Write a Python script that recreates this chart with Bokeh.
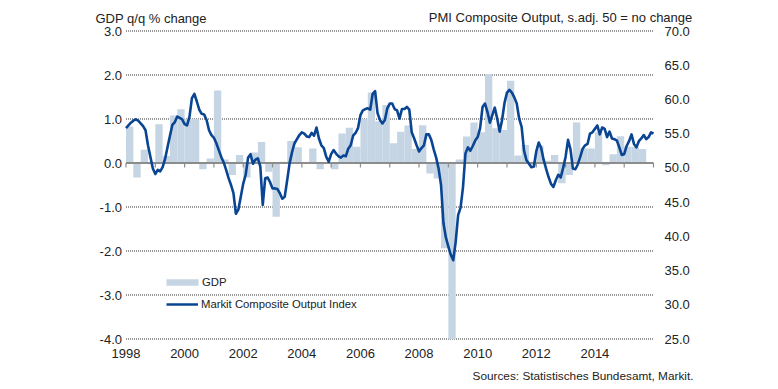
from bokeh.plotting import figure
from bokeh.models import (Range1d, LinearAxis, FixedTicker, PrintfTickFormatter,
                          Label, Legend, LegendItem)
from bokeh.embed import file_html
from bokeh.resources import INLINE

# ---------------- data ----------------
gdp_start_year = 1998  # quarterly, 1998Q1 ..
gdp_qq = [0.83, -0.33, 0.30, -0.03, 0.88, 0.16, 1.08, 1.22,
          1.00, 1.00, -0.14, 0.10, 1.65, 0.08, -0.27, 0.18,
          -0.33, 0.24, 0.48, -0.20, -1.22, 0.03, 0.50, 0.36,
          0.00, 0.33, -0.14, 0.02, -0.14, 0.67, 0.80, 0.37,
          1.00, 1.60, 0.95, 1.32, 0.45, 0.71, 0.85, 0.32,
          0.86, -0.24, -0.35, -1.94, -4.00, 0.08, 0.60, 0.92,
          0.70, 2.02, 0.79, 0.75, 1.87, 0.17, 0.41, -0.05,
          0.40, 0.05, 0.18, -0.46, -0.27, 0.92, 0.33, 0.33,
          0.70, -0.05, 0.20, 0.61, 0.37, 0.37, 0.32]

pmi_start_year = 1998  # monthly, Jan 1998 ..
pmi_composite = [
    55.8, 56.2, 56.6, 56.9, 57.1, 56.9, 56.5, 56.1, 55.5, 53.3, 51.6, 49.9,
    49.1, 49.7, 49.5, 50.1, 51.3, 53.0, 54.7, 56.3, 56.7, 57.5, 57.3, 57.1,
    56.4, 56.2, 57.5, 60.2, 60.8, 59.7, 58.5, 57.9, 57.8, 57.0, 55.5, 54.8,
    54.4, 53.6, 52.6, 51.6, 50.8, 49.7, 48.5, 47.5, 46.3, 43.3, 43.9, 45.8,
    47.7, 49.0, 51.5, 52.0, 50.6, 51.2, 51.4, 50.2, 44.6, 48.5, 48.6, 47.9,
    47.0, 47.0, 46.9, 46.3, 45.5, 45.8, 48.2, 50.7, 52.3, 53.6, 54.2, 54.8,
    55.2, 55.0, 54.6, 54.5, 55.1, 54.7, 55.9, 54.3, 53.3, 52.9, 51.6, 50.9,
    52.0, 52.6, 52.1, 51.7, 51.5, 51.8, 51.7, 52.8, 53.3, 54.7, 55.1, 55.8,
    57.7, 58.4, 58.6, 58.7, 58.5, 60.8, 61.2, 58.0, 57.0, 56.5, 57.0, 58.7,
    59.4, 59.4, 58.6, 58.4, 57.2, 58.6, 58.6, 58.9, 58.5, 55.2, 54.3, 53.3,
    52.4, 52.9, 53.3, 54.9, 54.9, 54.1, 52.7, 51.5, 49.9, 47.5, 41.9, 39.8,
    38.5, 37.3, 36.5, 39.2, 43.1, 44.2, 47.2, 52.1, 53.0, 52.5, 53.2, 54.0,
    54.5, 55.8, 58.9, 59.4, 58.2, 56.6, 57.7, 58.8, 57.2, 55.3, 57.0, 59.5,
    61.0, 61.4, 61.0, 60.3, 59.4, 57.2, 56.0, 52.5, 51.1, 50.6, 50.1, 50.2,
    52.4, 53.7, 52.9, 51.2, 49.9, 48.7, 47.7, 47.2, 48.2, 49.0, 48.6, 50.0,
    51.6, 54.1, 52.7, 49.9, 49.8, 50.5, 51.6, 52.8, 53.3, 53.5, 55.0, 55.2,
    55.7, 56.2, 54.9, 55.9, 55.7, 54.5, 55.3, 54.3, 54.2, 54.0, 53.0, 51.9,
    52.0, 53.2, 53.9, 54.9, 53.5, 53.0, 53.9, 54.3, 54.8, 54.2, 54.5, 55.2,
    55.0]

left_ticks = [-4, -3, -2, -1, 0, 1, 2, 3]
right_ticks = [25, 30, 35, 40, 45, 50, 55, 60, 65, 70]
year_labels = [1998, 2000, 2002, 2004, 2006, 2008, 2010, 2012, 2014]
year_ticks = list(range(1998, 2017))

left_title = "GDP q/q % change"
right_title = "PMI Composite  Output,  s.adj. 50 = no change"
source_text = "Sources: Statistisches Bundesamt, Markit."

# ---------------- layout (pixels) ----------------
W, H = 776, 386
X0, X1 = 1998, 2016            # data x span of the chart area
PX_L, PX_R = 125.5, 653.0      # its pixel extent
YL0, YL1 = -4, 3               # left scale span
YR0, YR1 = 25, 70              # right scale span
PY_T, PY_B = 30.5, 338.5       # pixel extent (top, bottom)

ppx = (PX_R - PX_L) / (X1 - X0)
x_range = Range1d(X0 - PX_L / ppx, X1 + (W - PX_R) / ppx)
ppl = (PY_B - PY_T) / (YL1 - YL0)
y_range = Range1d(YL0 - (H - PY_B) / ppl, YL1 + PY_T / ppl)
ppr = (PY_B - PY_T) / (YR1 - YR0)
pmi_range = Range1d(YR0 - (H - PY_B) / ppr, YR1 + PY_T / ppr)

gdp_x = [gdp_start_year + i / 4 + 0.125 for i in range(len(gdp_qq))]
pmi_x = [pmi_start_year + k / 12 for k in range(len(pmi_composite))]

FONT = "Liberation Sans"
TXT = "#222222"
BAR = "#c5d5e4"
LINE = "#0a4594"

p = figure(width=W, height=H, x_range=x_range, y_range=y_range,
           output_backend="svg", toolbar_location=None, title=None,
           min_border=0)
p.outline_line_color = None
p.background_fill_color = "white"
p.border_fill_color = "white"
p.extra_y_ranges = {"pmi": pmi_range}
p.grid.visible = False

# dotted horizontal gridlines over the chart span (not at zero)
grid_vals = [t for t in left_ticks if t != 0]
p.segment(x0=[X0] * len(grid_vals), x1=[X1] * len(grid_vals),
          y0=grid_vals, y1=grid_vals, line_color="#333333",
          line_dash="1 1", line_width=1)

# left axis
la = p.yaxis[0]
la.fixed_location = X0
la.ticker = FixedTicker(ticks=left_ticks)
la.formatter = PrintfTickFormatter(format="%.1f")
la.axis_line_color = None
la.major_tick_line_color = None
la.minor_tick_line_color = None
la.major_tick_out = 0
la.major_tick_in = 0
la.major_label_standoff = 4
la.major_label_text_font = FONT
la.major_label_text_font_size = "13px"
la.major_label_text_color = TXT

# right axis
ra = LinearAxis(y_range_name="pmi", ticker=FixedTicker(ticks=right_ticks),
                formatter=PrintfTickFormatter(format="%.1f"),
                fixed_location=X1)
ra.axis_line_color = None
ra.major_tick_line_color = None
ra.minor_tick_line_color = None
ra.major_tick_out = 0
ra.major_tick_in = 0
ra.major_label_standoff = 11
ra.major_label_text_font = FONT
ra.major_label_text_font_size = "13px"
ra.major_label_text_color = TXT
p.add_layout(ra, "right")

# bottom axis (labels only), under the lowest gridline
xa = p.xaxis[0]
xa.fixed_location = YL0
xa.ticker = FixedTicker(ticks=year_labels)
xa.axis_line_color = None
xa.major_tick_line_color = None
xa.minor_tick_line_color = None
xa.major_tick_out = 0
xa.major_tick_in = 0
xa.major_label_standoff = 10
xa.major_label_text_font = FONT
xa.major_label_text_font_size = "13px"
xa.major_label_text_color = TXT

# bars
bars = p.vbar(x=gdp_x, top=gdp_qq, bottom=0, width=0.25,
              fill_color=BAR, line_color=None)

# zero line with yearly ticks
p.segment(x0=[X0], x1=[X1], y0=[0], y1=[0], line_color="#8c8c8c",
          line_width=2)
p.segment(x0=year_ticks, y0=[0] * len(year_ticks), x1=year_ticks,
          y1=[-4.5 / ppl] * len(year_ticks), line_color="#8c8c8c",
          line_width=1.2)

# PMI line
ln = p.line(x=pmi_x, y=pmi_composite, y_range_name="pmi",
            line_color=LINE, line_width=2.6, line_join="round")

common = dict(orientation="vertical", label_height=14, spacing=0,
              padding=0, margin=0, border_line_color=None,
              background_fill_alpha=0, label_text_font=FONT,
              label_text_font_size="11.3px", label_text_color=TXT)

# area keys are drawn at 80% of the glyph box -> 40x8 box gives ~32x6 key
leg_gdp = Legend(items=[LegendItem(label="GDP", renderers=[bars])],
                 location=(162, 97), glyph_width=40, glyph_height=8,
                 label_standoff=0, **common)
leg_pmi = Legend(items=[LegendItem(label="Markit Composite Output Index",
                                   renderers=[ln])],
                 location=(166, 75), glyph_width=32, glyph_height=6,
                 label_standoff=3, **common)
p.add_layout(leg_gdp, "center")
p.add_layout(leg_pmi, "center")

# titles / source (screen units: from left / from bottom)
p.add_layout(Label(x=95, y=H - 18.3, x_units="screen", y_units="screen",
                   text=left_title, text_font=FONT, text_font_size="13px",
                   text_color=TXT, text_align="left",
                   text_baseline="alphabetic"))
p.add_layout(Label(x=699, y=H - 17.0, x_units="screen", y_units="screen",
                   text=right_title, text_font=FONT, text_font_size="13px",
                   text_color=TXT, text_align="right",
                   text_baseline="alphabetic"))
p.add_layout(Label(x=693, y=H - 375.0, x_units="screen", y_units="screen",
                   text=source_text, text_font=FONT, text_font_size="11.8px",
                   text_color=TXT, text_align="right",
                   text_baseline="alphabetic"))

open("out.html", "w").write(file_html(p, INLINE))
